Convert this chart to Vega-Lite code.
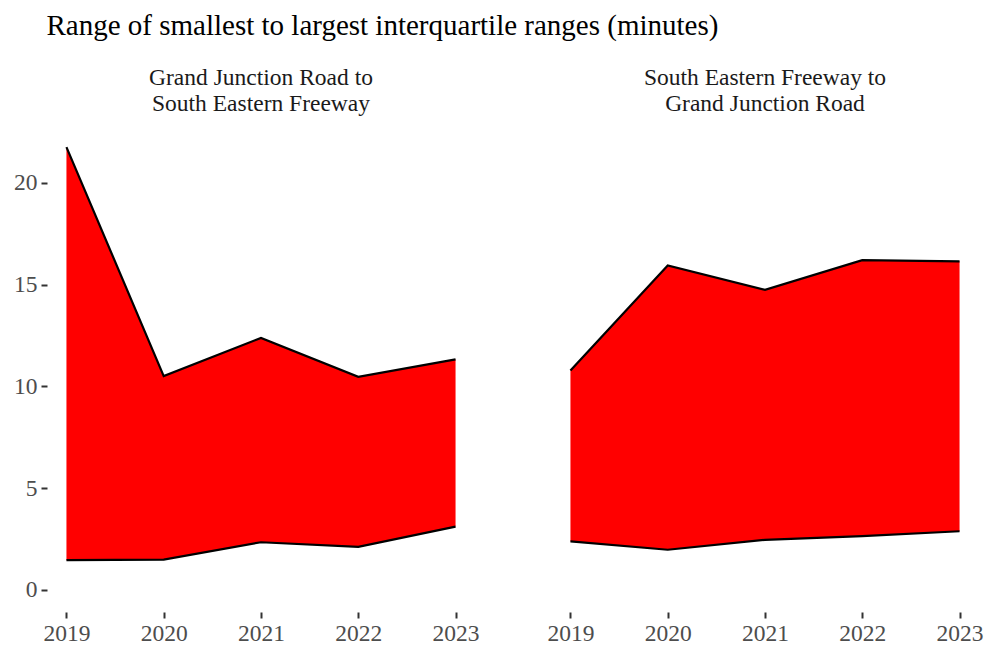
{
  "$schema": "https://vega.github.io/schema/vega-lite/v6.json",
  "background": "white",
  "padding": {"left": 13, "top": 11, "right": 8, "bottom": 8},
  "title": {"text": "Range of smallest to largest interquartile ranges (minutes)", "anchor": "start", "font": "Liberation Serif", "fontSize": 29, "fontWeight": "normal", "color": "#000000", "offset": 25, "dx": 33},
  "data": {"values": [
    {"route": "Grand Junction Road to South Eastern Freeway", "year": 2019, "min": 1.46, "max": 21.75},
    {"route": "Grand Junction Road to South Eastern Freeway", "year": 2020, "min": 1.49, "max": 10.5},
    {"route": "Grand Junction Road to South Eastern Freeway", "year": 2021, "min": 2.34, "max": 12.38},
    {"route": "Grand Junction Road to South Eastern Freeway", "year": 2022, "min": 2.11, "max": 10.47},
    {"route": "Grand Junction Road to South Eastern Freeway", "year": 2023, "min": 3.11, "max": 11.32},
    {"route": "South Eastern Freeway to Grand Junction Road", "year": 2019, "min": 2.38, "max": 10.78},
    {"route": "South Eastern Freeway to Grand Junction Road", "year": 2020, "min": 1.97, "max": 15.94},
    {"route": "South Eastern Freeway to Grand Junction Road", "year": 2021, "min": 2.46, "max": 14.74},
    {"route": "South Eastern Freeway to Grand Junction Road", "year": 2022, "min": 2.64, "max": 16.2},
    {"route": "South Eastern Freeway to Grand Junction Road", "year": 2023, "min": 2.88, "max": 16.14}
  ]},
  "facet": {"column": {"field": "route", "type": "nominal", "title": null,
    "header": {"labelExpr": "[slice(datum.value, 0, indexof(datum.value, ' to ') + 3), slice(datum.value, indexof(datum.value, ' to ') + 4)]",
      "labelFont": "Liberation Serif", "labelFontSize": 23.5, "labelColor": "#1a1a1a", "labelLineHeight": 26, "labelPadding": 10, "labelBaseline": "top"}}},
  "spacing": 76,
  "spec": {
    "width": 428,
    "height": 487,
    "encoding": {
      "x": {"field": "year", "type": "quantitative", "scale": {"domain": [2018.8, 2023.2], "nice": false, "zero": false},
        "axis": {"values": [2019, 2020, 2021, 2022, 2023], "format": "d", "title": null}}
    },
    "layer": [
      {"mark": {"type": "area", "color": "#ff0000", "opacity": 1},
        "encoding": {
          "y": {"field": "max", "type": "quantitative", "scale": {"domain": [-1.0875, 22.8375], "nice": false, "zero": false},
            "axis": {"values": [0, 5, 10, 15, 20], "title": null}},
          "y2": {"field": "min"}}},
      {"mark": {"type": "line", "color": "#000000", "strokeWidth": 2.2}, "encoding": {"y": {"field": "max", "type": "quantitative"}}},
      {"mark": {"type": "line", "color": "#000000", "strokeWidth": 2.2}, "encoding": {"y": {"field": "min", "type": "quantitative"}}}
    ]
  },
  "resolve": {"scale": {"y": "shared"}},
  "config": {
    "view": {"stroke": null},
    "axis": {"grid": false, "domain": false, "labelFont": "Liberation Serif", "labelFontSize": 23.5, "labelColor": "#4d4d4d", "tickColor": "#333333", "tickWidth": 2, "tickSize": 6, "labelPadding": 4},
    "axisX": {"labelPadding": 3}
  }
}
